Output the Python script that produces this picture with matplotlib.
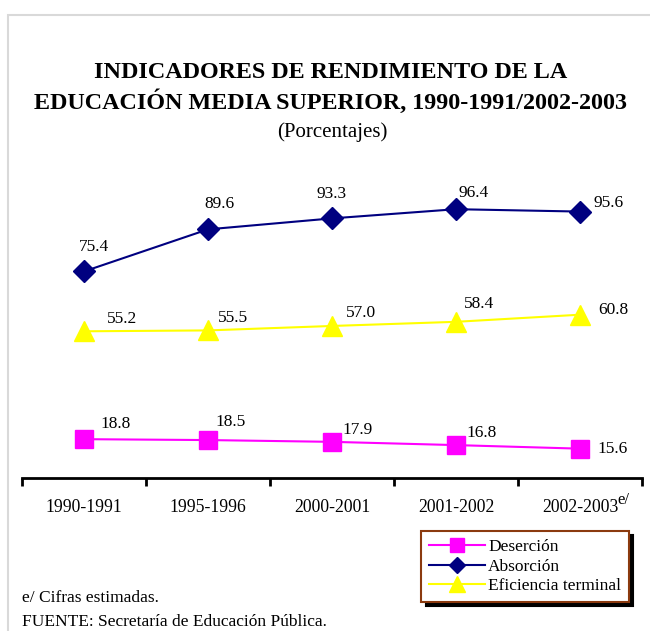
import numpy as np
import matplotlib
matplotlib.use("Agg")
import matplotlib.pyplot as plt
from matplotlib.patches import Rectangle

plt.rcParams['font.family'] = ['Liberation Serif', 'DejaVu Serif']

periodos = ["1990-1991", "1995-1996", "2000-2001", "2001-2002", "2002-2003"]
desercion = [18.8, 18.5, 17.9, 16.8, 15.6]
absorcion = [75.4, 89.6, 93.3, 96.4, 95.6]
eficiencia = [55.2, 55.5, 57.0, 58.4, 60.8]

# label offsets in pixels (dx, dy) per point
off_des = [(32, 15), (23, 18), (26, 12), (26, 12), (33, 0)]
off_abs = [(10, 24), (11, 25), (0, 24), (18, 16), (29, 9)]
off_efi = [(38, 12), (25, 12), (29, 13), (23, 18), (33, 5)]

fig = plt.figure(figsize=(6.5, 6.31), dpi=100)
ax = fig.add_axes([22/650, 1-478/631, 620/650, (478-160)/631])

x = np.arange(len(periodos))
l1, = ax.plot(x, desercion, color='#FF00FF', lw=1.5, marker='s', ms=13,
              mfc='#FF00FF', mec='#FF00FF', label='Deserción', clip_on=False)
l2, = ax.plot(x, absorcion, color='#000080', lw=1.5, marker='D', ms=11.5,
              mfc='#000080', mec='#000080', label='Absorción', clip_on=False)
l3, = ax.plot(x, eficiencia, color='#FFFF00', lw=1.5, marker='^', ms=15,
              mfc='#FFFF00', mec='#FFFF00', label='Eficiencia terminal', clip_on=False)

for vals, offs in [(desercion, off_des), (absorcion, off_abs), (eficiencia, off_efi)]:
    for i, v in enumerate(vals):
        ax.annotate(f"{v:.1f}", (i, v), xytext=offs[i], textcoords='offset pixels',
                    ha='center', va='center', fontsize=12.5)

ax.set_xlim(-0.5, 4.5)
ax.set_ylim(5.7, 113)
for s in ['top', 'left', 'right']:
    ax.spines[s].set_visible(False)
ax.spines['bottom'].set_linewidth(2)
ax.set_yticks([])
ax.set_xticks(x)
ax.set_xticklabels(periodos, fontsize=12.7)
ax.tick_params(axis='x', which='major', length=0, pad=15)
ax.set_xticks(np.arange(-0.5, 5, 1), minor=True)
ax.tick_params(axis='x', which='minor', length=6, width=2, direction='out')
ax.patch.set_alpha(0)

fig.text(617/650, 1-500/631, "e/", fontsize=12, ha='left', va='center')

fig.text(0.508, 1-72/631, "INDICADORES DE RENDIMIENTO DE LA", fontsize=17.4,
         fontweight='bold', ha='center', va='center')
fig.text(0.508, 1-102/631, "EDUCACIÓN MEDIA SUPERIOR, 1990-1991/2002-2003", fontsize=17.4,
         fontweight='bold', ha='center', va='center')
fig.text(0.512, 1-132/631, "(Porcentajes)", fontsize=15, ha='center', va='center')

leg = ax.legend(handles=[l1, l2, l3], loc='upper right',
                bbox_to_anchor=(629/650, 1-531/631), bbox_transform=fig.transFigure,
                borderaxespad=0, fontsize=12.5, handlelength=3.2, handletextpad=0.2,
                labelspacing=0.2, borderpad=0.45, fancybox=False,
                shadow={'color': 'black', 'alpha': 1, 'ox': 3, 'oy': -3},
                framealpha=1, markerscale=0.75)
leg.get_frame().set_edgecolor('#8B3A0F')
leg.get_frame().set_linewidth(1.5)

fig.text(22/650, 1-598/631, "e/ Cifras estimadas.", fontsize=12.5, ha='left', va='center')
fig.text(22/650, 1-622/631, "FUENTE: Secretaría de Educación Pública.", fontsize=12.5,
         ha='left', va='center')

fig.add_artist(Rectangle((8/650, -0.1), 1, (631-15)/631 + 0.1, fill=False,
                         edgecolor='#d9d9d9', lw=1.5, transform=fig.transFigure))

fig.savefig("out.png", dpi=100)
